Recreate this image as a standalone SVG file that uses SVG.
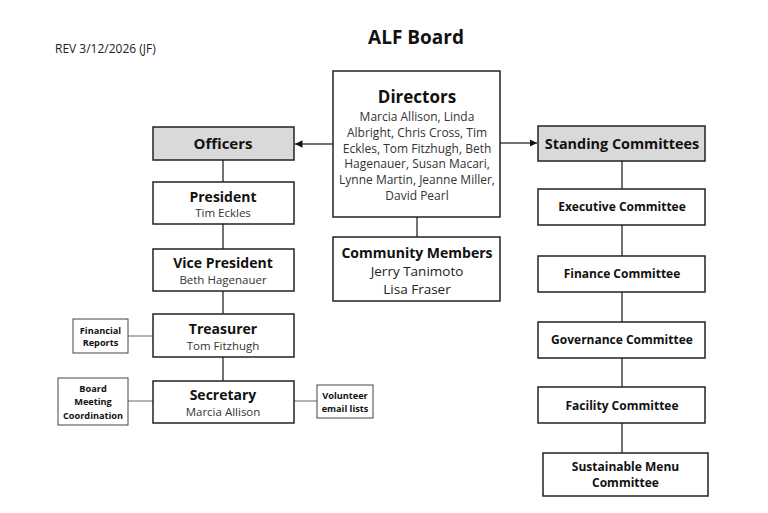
<svg xmlns="http://www.w3.org/2000/svg" width="768" height="513" viewBox="0 0 768 513">
<style>
.box{fill:#fff;stroke:#222;stroke-width:1.5}
.gray{fill:#d9d9d9;stroke:#222;stroke-width:1.5}
.small{fill:#fff;stroke:#444;stroke-width:1}
.ln{stroke:#444;stroke-width:1.5;fill:none}
.sl{stroke:#666;stroke-width:1;fill:none}
text{font-family:"Open Sans","Noto Sans",sans-serif;fill:#111;text-anchor:middle}
.t{font-size:19px;font-weight:bold}
.hd{font-size:17px;font-weight:bold}
.h15{font-size:15px;font-weight:bold}
.h14{font-size:14px;font-weight:bold}
.n{font-size:11.5px;fill:#333}
.dn{font-size:12px;fill:#333}
.c{font-size:12px;font-weight:bold}
.s{font-size:9.2px;font-weight:bold}
</style>
<defs>
<marker id="ah" viewBox="0 0 6 6" refX="6" refY="3" markerWidth="5" markerHeight="5" orient="auto"><path d="M0,0 L6,3 L0,6 z" fill="#111"/></marker>
</defs>
<text x="55" y="53" style="font-size:12px;text-anchor:start;fill:#222">REV 3/12/2026 (JF)</text>
<text class="t" x="416" y="44">ALF Board</text>
<g id="connectors">
<line class="ln" x1="333" y1="144" x2="295" y2="144" marker-end="url(#ah)"/>
<line class="ln" x1="500" y1="143" x2="537" y2="143" marker-end="url(#ah)"/>
<line class="ln" x1="417" y1="217" x2="417" y2="237"/>
<line class="ln" x1="223" y1="160" x2="223" y2="182"/>
<line class="ln" x1="223" y1="224" x2="223" y2="249"/>
<line class="ln" x1="223" y1="291" x2="223" y2="314"/>
<line class="ln" x1="223" y1="357" x2="223" y2="381"/>
<line class="sl" x1="128" y1="336" x2="153" y2="336"/>
<line class="sl" x1="128" y1="401" x2="153" y2="401"/>
<line class="sl" x1="294" y1="401" x2="317" y2="401"/>
<line class="ln" x1="622" y1="161" x2="622" y2="189"/>
<line class="ln" x1="622" y1="225" x2="622" y2="256"/>
<line class="ln" x1="622" y1="292" x2="622" y2="322"/>
<line class="ln" x1="622" y1="358" x2="622" y2="387"/>
<line class="ln" x1="622" y1="423" x2="622" y2="453"/>
</g>
<g id="directors">
<rect class="box" x="333" y="71" width="167" height="146"/>
<text class="hd" x="417" y="103">Directors</text>
<text class="dn" x="417" y="121">Marcia Allison, Linda</text>
<text class="dn" x="417" y="136.8">Albright, Chris Cross, Tim</text>
<text class="dn" x="417" y="152.6">Eckles, Tom Fitzhugh, Beth</text>
<text class="dn" x="417" y="168.4">Hagenauer, Susan Macari,</text>
<text class="dn" x="417" y="184.2">Lynne Martin, Jeanne Miller,</text>
<text class="dn" x="417" y="200">David Pearl</text>
</g>
<g id="community">
<rect class="box" x="333" y="237" width="167" height="64"/>
<text class="h14" x="417" y="258">Community Members</text>
<text x="417" y="275.5" style="font-size:13.5px;fill:#222">Jerry Tanimoto</text>
<text x="417" y="293.5" style="font-size:13.5px;fill:#222">Lisa Fraser</text>
</g>
<g id="officers">
<rect class="gray" x="153" y="127" width="141" height="33"/>
<text class="h15" x="223" y="149">Officers</text>
</g>
<g id="president">
<rect class="box" x="153" y="182" width="141" height="42"/>
<text class="h14" x="223" y="202">President</text>
<text class="n" x="223" y="217">Tim Eckles</text>
</g>
<g id="vicepresident">
<rect class="box" x="153" y="249" width="141" height="42"/>
<text class="h14" x="223" y="268">Vice President</text>
<text class="n" x="223" y="284">Beth Hagenauer</text>
</g>
<g id="treasurer">
<rect class="box" x="153" y="314" width="141" height="43"/>
<text class="h14" x="223" y="334">Treasurer</text>
<text class="n" x="223" y="350">Tom Fitzhugh</text>
</g>
<g id="secretary">
<rect class="box" x="153" y="381" width="141" height="42"/>
<text class="h14" x="223" y="400">Secretary</text>
<text class="n" x="223" y="416">Marcia Allison</text>
</g>
<g id="financialreports">
<rect class="small" x="73" y="319" width="55" height="34"/>
<text class="s" x="100.5" y="334">Financial</text>
<text class="s" x="100.5" y="346">Reports</text>
</g>
<g id="boardmeeting">
<rect class="small" x="58" y="378" width="70" height="47"/>
<text class="s" x="93" y="392">Board</text>
<text class="s" x="93" y="405">Meeting</text>
<text class="s" x="93" y="419">Coordination</text>
</g>
<g id="volunteer">
<rect class="small" x="317" y="385" width="56" height="33"/>
<text class="s" x="345" y="399">Volunteer</text>
<text class="s" x="345" y="412">email lists</text>
</g>
<g id="standing">
<rect class="gray" x="538" y="126" width="167" height="35"/>
<text x="622" y="149" style="font-size:14.4px;font-weight:bold">Standing Committees</text>
</g>
<g id="executive">
<rect class="box" x="538" y="189" width="167" height="36"/>
<text class="c" x="622" y="211">Executive Committee</text>
</g>
<g id="finance">
<rect class="box" x="538" y="256" width="167" height="36"/>
<text class="c" x="622" y="278">Finance Committee</text>
</g>
<g id="governance">
<rect class="box" x="538" y="322" width="167" height="36"/>
<text class="c" x="622" y="344">Governance Committee</text>
</g>
<g id="facility">
<rect class="box" x="538" y="387" width="167" height="36"/>
<text class="c" x="622" y="410">Facility Committee</text>
</g>
<g id="sustainable">
<rect class="box" x="543" y="453" width="165" height="43"/>
<text class="c" x="625.5" y="471">Sustainable Menu</text>
<text class="c" x="625.5" y="487">Committee</text>
</g>
</svg>
